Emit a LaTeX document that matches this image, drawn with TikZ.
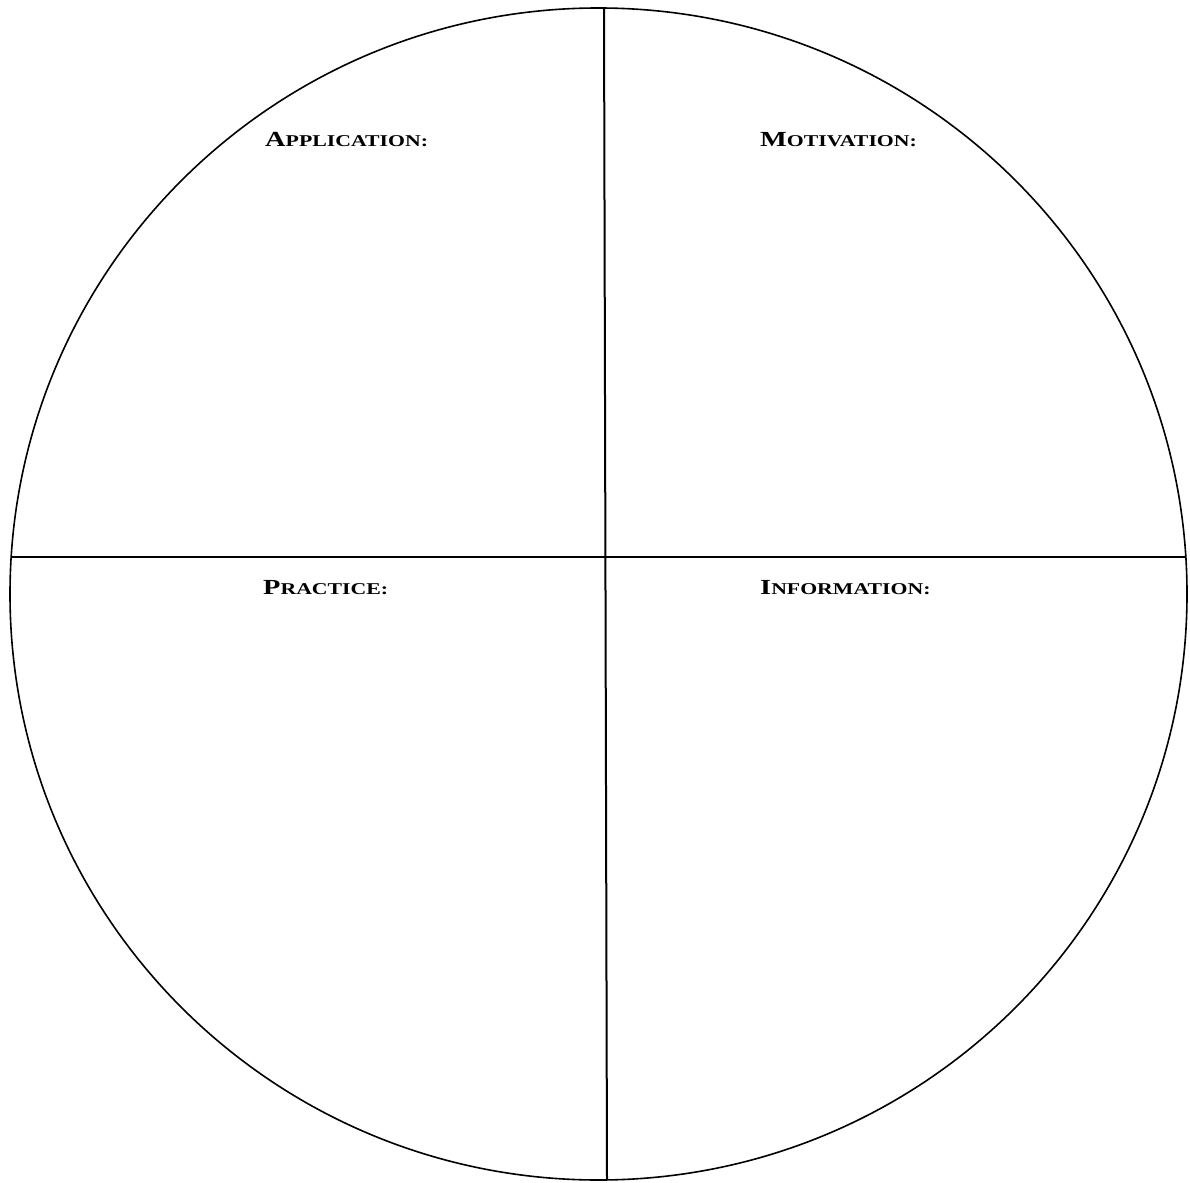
\documentclass[tikz,border=0pt]{standalone}
\usepackage{fontspec}
\setmainfont{Liberation Serif}
\newfontfamily\lblfont[FakeStretch=1.32]{Liberation Serif}
\newcommand\mysc[2]{{\fontsize{21.5}{21}\selectfont #1}{\fontsize{16.5}{16}\selectfont #2}}
\begin{document}
\begin{tikzpicture}[x=1pt,y=-1pt,
  lbl/.style={anchor=base west,inner sep=0pt,font=\lblfont\bfseries},
  rim/.style={line width=1.6pt},
  divider/.style={line width=2pt}]
\useasboundingbox (0,0) rectangle (1190,1182);
\draw[rim] (598.5,594) ellipse [x radius=588.5, y radius=586];
\coordinate (vt) at (604,8.2);
\coordinate (vb) at (607,1179.8);
\coordinate (hl) at (11.2,557);
\coordinate (hr) at (1185.8,557);
\draw[divider] (vt) -- (vb);
\draw[divider,line width=1.6pt] (hl) -- (hr);
\node[lbl] (app) at (265,147) {\mysc{A}{PPLICATION:}};
\node[lbl] (mot) at (760,147) {\mysc{M}{OTIVATION:}};
\node[lbl] (pra) at (263,594) {\mysc{P}{RACTICE:}};
\node[lbl] (inf) at (760,594) {\mysc{I}{NFORMATION:}};
\end{tikzpicture}
\end{document}
